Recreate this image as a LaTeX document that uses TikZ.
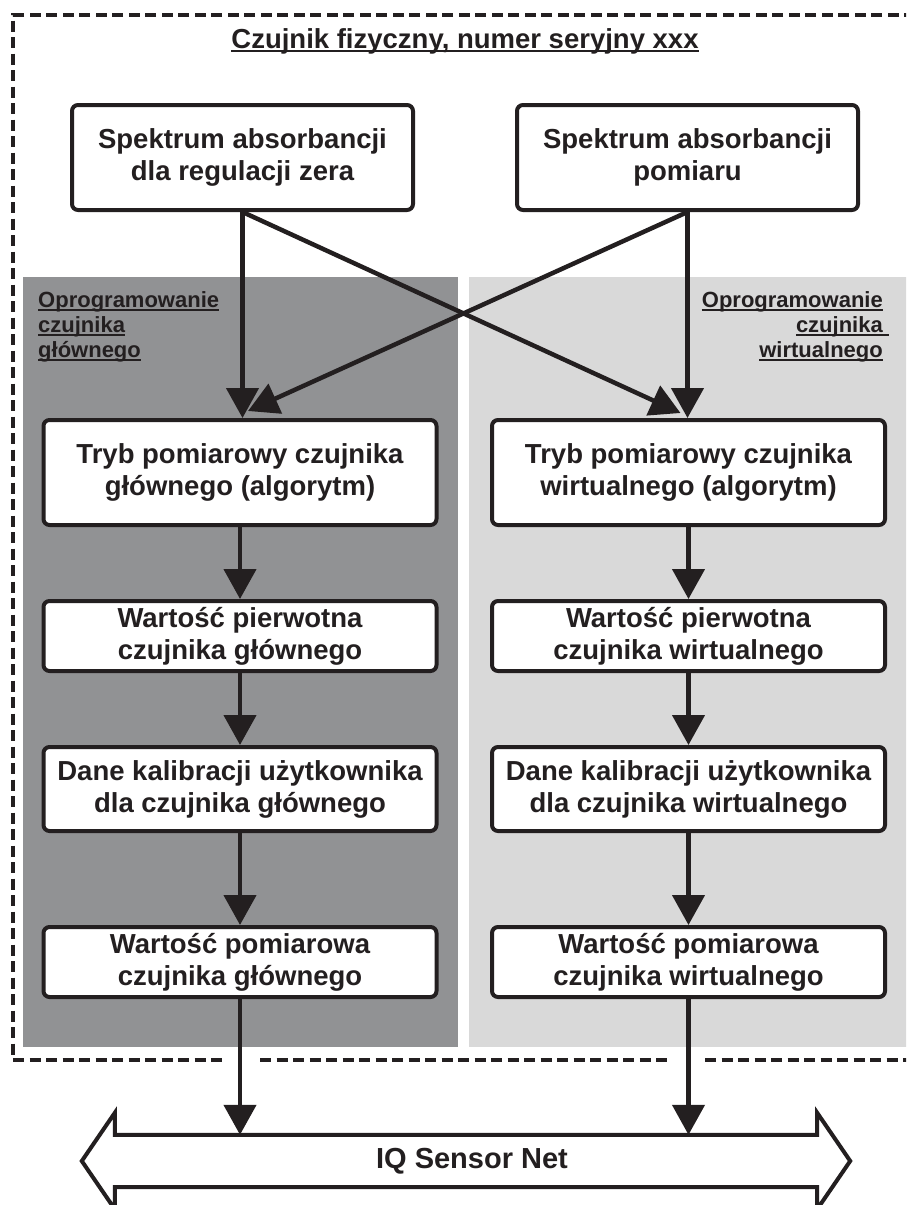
\documentclass[tikz,border=0pt]{standalone}
\usepackage{fontspec}
\setmainfont{Liberation Sans}
\usetikzlibrary{arrows.meta,calc}
\definecolor{ink}{HTML}{231F20}
\definecolor{darkpanel}{HTML}{919294}
\definecolor{lightpanel}{HTML}{D9D9D9}
\begin{document}
\begin{tikzpicture}[x=1pt,y=-1pt,
  box/.style={draw=ink, line width=4pt, rounded corners=6pt, fill=white, align=center, inner sep=0pt,
    font=\bfseries\fontsize{27.5}{32}\selectfont, text=ink},
  topbox/.style={box, minimum width=341pt, minimum height=105pt},
  colbox/.style={box, minimum width=393pt},
  arr/.style={draw=ink, line width=4.5pt, -{Triangle[width=32pt,length=30pt]}},
  lbl/.style={inner sep=0pt, font=\bfseries\fontsize{22}{25}\selectfont, text=ink},
  uline/.style={draw=ink, line width=2pt},
  frame/.style={draw=ink, line width=4pt, dash pattern=on 11pt off 5.5pt}
]
\useasboundingbox (0,0) rectangle (906,1205);
\clip (0,0) rectangle (906,1205);

% panels
\fill[darkpanel] (23,277) rectangle (458,1047);
\fill[lightpanel] (469,277) rectangle (912,1047);

% dashed outer frame
\draw[frame] (915,15) -- (13,15) -- (13,1060) -- (223,1060);
\draw[frame] (260,1060) -- (668,1060);
\draw[frame] (705,1060) -- (915,1060);

% title
\node[inner sep=0pt, font=\bfseries\fontsize{27.5}{32}\selectfont, text=ink, anchor=base] (title) at (465,48) {Czujnik fizyczny, numer seryjny xxx};
\draw[uline, line width=2.2pt] ([yshift=-3pt]title.base west) -- ([yshift=-3pt]title.base east);

% panel labels
\node[lbl, anchor=base west] (la) at (38,307) {Oprogramowanie};
\node[lbl, anchor=base west] (lb) at (38,332) {czujnika};
\node[lbl, anchor=base west] (lc) at (38,357) {głównego};
\foreach \n in {la,lb,lc}{\draw[uline] ([yshift=-3pt]\n.base west) -- ([yshift=-3pt]\n.base east);}
\node[lbl, anchor=base east] (ra) at (883,307) {Oprogramowanie};
\node[lbl, anchor=base east] (rb) at (883,332) {czujnika};
\node[lbl, anchor=base east] (rc) at (883,357) {wirtualnego};
\draw[uline] ([yshift=-3pt]ra.base west) -- ([yshift=-3pt]ra.base east);
\draw[uline] ([yshift=-3pt]rb.base west) -- ([xshift=6pt,yshift=-3pt]rb.base east);
\draw[uline] ([yshift=-3pt]rc.base west) -- ([yshift=-3pt]rc.base east);

% boxes
\node[topbox] (TL) at (242.5,157.5) {Spektrum absorbancji\\dla regulacji zera};
\node[topbox] (TR) at (687.5,157.5) {Spektrum absorbancji\\pomiaru};

\node[colbox, minimum height=105pt] (L1) at (240,472.5) {Tryb pomiarowy czujnika\\głównego (algorytm)};
\node[colbox, minimum height=70pt] (L2) at (240,636) {Wartość pierwotna\\czujnika głównego};
\node[colbox, minimum height=84pt] (L3) at (240,789) {Dane kalibracji użytkownika\\dla czujnika głównego};
\node[colbox, minimum height=70pt] (L4) at (240,962) {Wartość pomiarowa\\czujnika głównego};

\node[colbox, minimum height=105pt] (R1) at (688.5,472.5) {Tryb pomiarowy czujnika\\wirtualnego (algorytm)};
\node[colbox, minimum height=70pt] (R2) at (688.5,636) {Wartość pierwotna\\czujnika wirtualnego};
\node[colbox, minimum height=84pt] (R3) at (688.5,789) {Dane kalibracji użytkownika\\dla czujnika wirtualnego};
\node[colbox, minimum height=70pt] (R4) at (688.5,962) {Wartość pomiarowa\\czujnika wirtualnego};

% arrows from spectra
\draw[arr] (TL.south) -- (TL.south |- L1.north);
\draw[arr] (TR.south) -- (TR.south |- R1.north);
\draw[arr] (TL.south) -- ([xshift=-8pt,yshift=5pt]R1.north);
\draw[arr] (TR.south) -- ([xshift=8pt,yshift=7pt]L1.north);

% column arrows
\draw[arr] (L1.south) -- (L2.north);
\draw[arr] (L2.south) -- (L3.north);
\draw[arr] (L3.south) -- (L4.north);
\draw[arr] (R1.south) -- (R2.north);
\draw[arr] (R2.south) -- (R3.north);
\draw[arr] (R3.south) -- (R4.north);

% bus
\node[inner sep=0pt, minimum width=702pt, minimum height=52pt] (bus) at (466,1161) {};
\draw[draw=ink, line width=4pt, fill=white, line join=miter]
  (bus.north west) -- (bus.north east) -- ++(0,-22) -- ($(bus.east)+(33,0)$)
  -- ($(bus.south east)+(0,22)$) -- (bus.south east) -- (bus.south west)
  -- ++(0,22) -- ($(bus.west)+(-33,0)$) -- ($(bus.north west)+(0,-22)$) -- cycle;
\node[inner sep=0pt, font=\bfseries\fontsize{29}{34}\selectfont, text=ink] (bustext) at ([xshift=6pt]bus.center) {IQ Sensor Net};

\draw[arr] (L4.south) -- (L4.south |- bus.north);
\draw[arr] (R4.south) -- (R4.south |- bus.north);
\end{tikzpicture}
\end{document}
